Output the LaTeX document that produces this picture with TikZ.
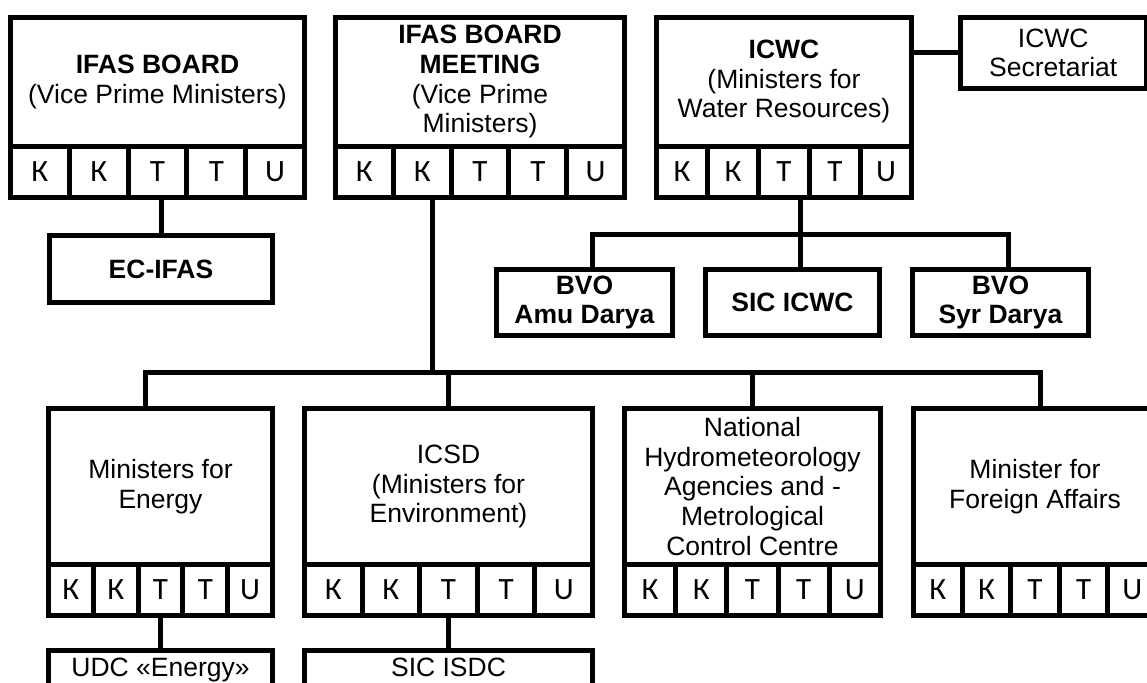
\documentclass[tikz,border=0pt]{standalone}
\usepackage{fontspec}
\setmainfont{Liberation Sans}
\newfontfamily\cellfont{Carlito}
\begin{document}
\begin{tikzpicture}[
x=1pt, y=-1pt,
line width=5pt,
every node/.style={draw, line width=5pt, outer sep=0pt, inner sep=2pt, align=center,
    font=\fontsize{26.5}{29.7}\selectfont},
head/.style={anchor=north west},
cell/.style={anchor=north west, inner sep=0pt, font=\cellfont\fontsize{31}{33}\selectfont},
sub/.style={anchor=north west, text height=20pt, text depth=6pt, inner ysep=6pt}
]
\useasboundingbox (0,0) rectangle (1147,682);
\clip (0,0) rectangle (1147,682);

\node[head, minimum width=294pt, minimum height=128.5pt] (board) at (10.5,17.5)
    {\textbf{IFAS BOARD}\\(Vice Prime Ministers)};
\foreach \t [count=\i] in {К,К,T,T,U}
    \node[cell, minimum width=58.8pt, minimum height=51.5pt] (board-\i) at (10.5+\i*58.8-58.8,146) {\t};

\node[head, minimum width=289pt, minimum height=128.5pt] (meeting) at (335.5,17.5)
    {\textbf{IFAS BOARD}\\\textbf{MEETING}\\(Vice Prime\\Ministers)};
\foreach \t [count=\i] in {К,К,T,T,U}
    \node[cell, minimum width=57.8pt, minimum height=51.5pt] (meeting-\i) at (335.5+\i*57.8-57.8,146) {\t};

\node[head, minimum width=255pt, minimum height=128.5pt] (icwc) at (656.5,17.5)
    {\textbf{ICWC}\\(Ministers for\\Water Resources)};
\foreach \t [count=\i] in {К,К,T,T,U}
    \node[cell, minimum width=51pt, minimum height=51.5pt] (icwc-\i) at (656.5+\i*51-51,146) {\t};

\node[head, minimum width=185.5pt, minimum height=71pt] (secr) at (960.5,17.5) {ICWC\\Secretariat};
\node[head, minimum width=223pt, minimum height=67pt] (ecifas) at (49.5,235.5) {\textbf{EC-IFAS}};

\node[head, minimum width=176pt, minimum height=66pt] (amu) at (496.5,269.5) {\textbf{BVO}\\\textbf{Amu Darya}};
\node[head, minimum width=174pt, minimum height=66pt] (sicicwc) at (705.5,269.5) {\textbf{SIC ICWC}};
\node[head, minimum width=176pt, minimum height=66pt] (syr) at (912.5,269.5) {\textbf{BVO}\\\textbf{Syr Darya}};

\node[head, minimum width=224pt, minimum height=156pt] (energy) at (48.5,408.5) {Ministers for\\Energy};
\foreach \t [count=\i] in {К,К,T,T,U}
    \node[cell, minimum width=44.8pt, minimum height=51pt] (energy-\i) at (48.5+\i*44.8-44.8,564.5) {\t};

\node[head, minimum width=288pt, minimum height=156pt] (icsd) at (304.5,408.5)
    {ICSD\\(Ministers for\\Environment)};
\foreach \t [count=\i] in {К,К,T,T,U}
    \node[cell, minimum width=57.6pt, minimum height=51pt] (icsd-\i) at (304.5+\i*57.6-57.6,564.5) {\t};

\node[head, minimum width=256pt, minimum height=156pt] (hydromet) at (624.5,408.5)
    {National\\Hydrometeorology\\Agencies and -\\Metrological\\Control Centre};
\foreach \t [count=\i] in {К,К,T,T,U}
    \node[cell, minimum width=51.2pt, minimum height=51pt] (hydromet-\i) at (624.5+\i*51.2-51.2,564.5) {\t};

\node[head, minimum width=243pt, minimum height=156pt] (foreign) at (913.5,408.5)
    {Minister for\\Foreign Affairs};
\foreach \t [count=\i] in {К,К,T,T,U}
    \node[cell, minimum width=48.6pt, minimum height=51pt] (foreign-\i) at (913.5+\i*48.6-48.6,564.5) {\t};

\node[sub, minimum width=224pt] (udc) at (48.5,650.5) {UDC «Energy»};
\node[sub, minimum width=288pt] (sicisdc) at (304.5,650.5) {SIC ISDC};

\coordinate (hub) at (432.5,372.5);
\coordinate (busleft) at (145.5,372.5);
\coordinate (busright) at (1040.5,372.5);
\coordinate (wbus) at (800.5,234.5);
\coordinate (wleft) at (592.5,234.5);
\coordinate (wright) at (1008.5,234.5);

\draw (board-3.south -| ecifas.north) -- (ecifas.north);
\draw (secr.west -| icwc.east) -- (secr.west);
\draw (wbus |- icwc-3.south) -- (wbus) -- (wbus |- sicicwc.north);
\draw (wleft |- amu.north) -- (wleft) -- (wright) -- (wright |- syr.north);
\draw (hub |- meeting-2.south) -- (hub);
\draw (busleft |- energy.north) -- (busleft) -- (busright) -- (busright |- foreign.north);
\draw (icsd.north) -- (icsd.north |- hub);
\draw (hydromet.north) -- (hydromet.north |- hub);
\draw (energy-3.south) -- (udc.north);
\draw (icsd-3.south) -- (sicisdc.north);
\end{tikzpicture}
\end{document}
